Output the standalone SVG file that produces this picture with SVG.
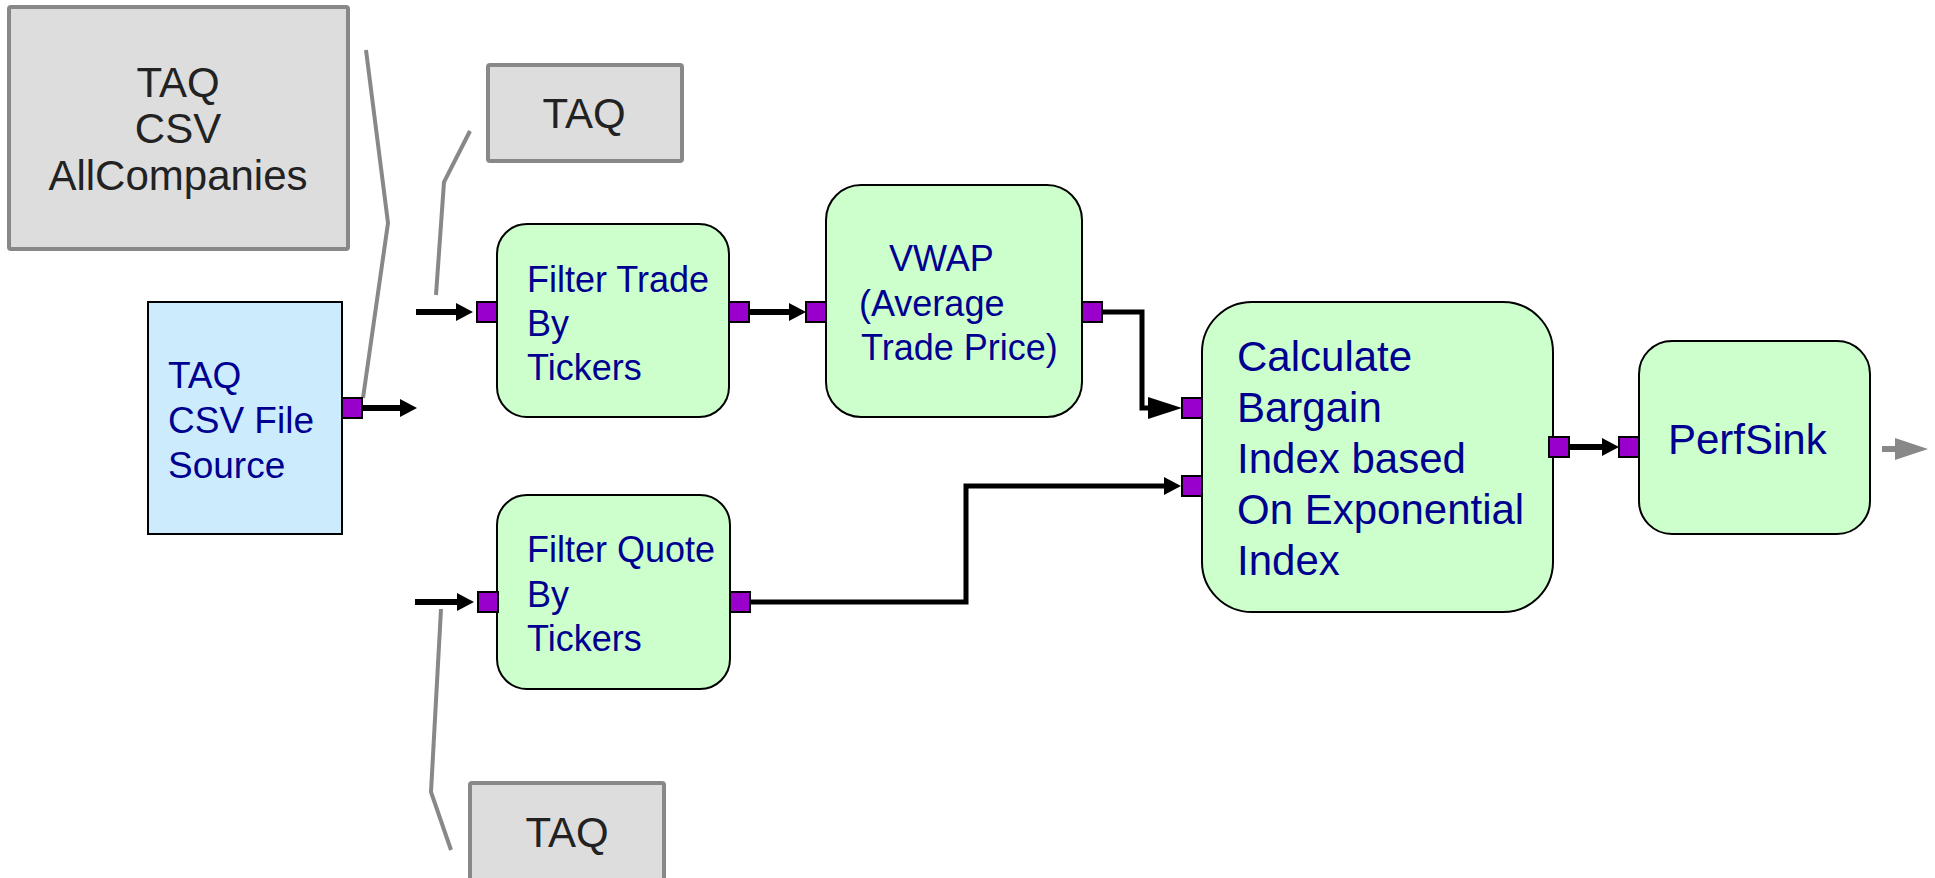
<svg xmlns="http://www.w3.org/2000/svg" width="1935" height="878" viewBox="0 0 1935 878">
  <style>
    .note rect { fill: #dddddd; stroke: #888888; stroke-width: 4; }
    .note text { font-family: "Liberation Sans", Arial, sans-serif; font-size: 42px; fill: #222222; text-anchor: middle; }
    .op { fill: #ccffcc; stroke: #000000; stroke-width: 2; }
    .src { fill: #ccecfd; stroke: #000000; stroke-width: 2; }
    .label { font-family: "Liberation Sans", Arial, sans-serif; font-size: 36px; fill: #000090; }
    .big { font-size: 42px; }
    .port { fill: #9900cc; stroke: #000000; stroke-width: 2; }
    .flow { fill: none; stroke: #000000; stroke-width: 6; }
    .flow.thin { stroke-width: 5; }
    .callout { fill: none; stroke: #888888; stroke-width: 4; }
  </style>
  <defs>
    <marker id="head" markerUnits="userSpaceOnUse" markerWidth="18" markerHeight="18" refX="0" refY="9" orient="auto">
      <path d="M0,0 L17,9 L0,18 z" fill="#000000"/>
    </marker>
    <marker id="head-large" markerUnits="userSpaceOnUse" markerWidth="35" markerHeight="24" refX="0" refY="12" orient="auto">
      <path d="M0,1 L34,12 L0,23 z" fill="#000000"/>
    </marker>
    <marker id="head-grey" markerUnits="userSpaceOnUse" markerWidth="34" markerHeight="24" refX="0" refY="12" orient="auto">
      <path d="M0,1 L33,12 L0,23 z" fill="#888888"/>
    </marker>
  </defs>

  <!-- annotation notes -->
  <g id="note-allcompanies" class="note">
    <rect x="9" y="7" width="339" height="242" rx="2"/>
    <text x="178" y="97">TAQ</text>
    <text x="178" y="143">CSV</text>
    <text x="178" y="190">AllCompanies</text>
  </g>
  <g id="note-trade" class="note">
    <rect x="488" y="65" width="194" height="96" rx="2"/>
    <text x="584" y="128">TAQ</text>
  </g>
  <g id="note-quote" class="note">
    <rect x="470" y="783" width="194" height="130" rx="2"/>
    <text x="567" y="847">TAQ</text>
  </g>

  <!-- callout leaders from notes -->
  <g id="callouts">
    <polyline class="callout" points="366,50 388,223 363,398"/>
    <polyline class="callout" points="470,131 444,182 436,295"/>
    <polyline class="callout" points="441,609 431,792 451,850"/>
  </g>

  <!-- operators -->
  <g id="node-source">
    <rect class="src" x="148" y="302" width="194" height="232"/>
    <text class="label" style="font-size:37px">
      <tspan x="168" y="388">TAQ</tspan>
      <tspan x="168" y="433">CSV File</tspan>
      <tspan x="168" y="478">Source</tspan>
    </text>
    <rect class="port" x="342" y="398" width="20" height="20"/>
  </g>

  <g id="node-filter-trade">
    <rect class="op" x="497" y="224" width="232" height="193" rx="30"/>
    <text class="label">
      <tspan x="527" y="292">Filter Trade</tspan>
      <tspan x="527" y="336">By</tspan>
      <tspan x="527" y="380">Tickers</tspan>
    </text>
    <rect class="port" x="477" y="302" width="20" height="20"/>
    <rect class="port" x="729" y="302" width="20" height="20"/>
  </g>

  <g id="node-vwap">
    <rect class="op" x="826" y="185" width="256" height="232" rx="35"/>
    <text class="label">
      <tspan x="889" y="271">VWAP</tspan>
      <tspan x="859" y="316">(Average</tspan>
      <tspan x="861" y="360">Trade Price)</tspan>
    </text>
    <rect class="port" x="806" y="302" width="20" height="20"/>
    <rect class="port" x="1082" y="302" width="20" height="20"/>
  </g>

  <g id="node-filter-quote">
    <rect class="op" x="497" y="495" width="233" height="194" rx="30"/>
    <text class="label">
      <tspan x="527" y="562">Filter Quote</tspan>
      <tspan x="527" y="607">By</tspan>
      <tspan x="527" y="651">Tickers</tspan>
    </text>
    <rect class="port" x="478" y="592" width="20" height="20"/>
    <rect class="port" x="730" y="592" width="20" height="20"/>
  </g>

  <g id="node-bargain-index">
    <rect class="op" x="1202" y="302" width="351" height="310" rx="50"/>
    <text class="label big">
      <tspan x="1237" y="371">Calculate</tspan>
      <tspan x="1237" y="422">Bargain</tspan>
      <tspan x="1237" y="473">Index based</tspan>
      <tspan x="1237" y="524">On Exponential</tspan>
      <tspan x="1237" y="575">Index</tspan>
    </text>
    <rect class="port" x="1182" y="398" width="20" height="20"/>
    <rect class="port" x="1182" y="476" width="20" height="20"/>
    <rect class="port" x="1549" y="437" width="20" height="20"/>
  </g>

  <g id="node-perfsink">
    <rect class="op" x="1639" y="341" width="231" height="193" rx="33"/>
    <text class="label big" x="1668" y="454">PerfSink</text>
    <rect class="port" x="1619" y="437" width="20" height="20"/>
  </g>

  <!-- data flow connectors -->
  <g id="connectors">
    <path class="flow" d="M362,408 H400" marker-end="url(#head)"/>
    <path class="flow" d="M416,312 H456" marker-end="url(#head)"/>
    <path class="flow" d="M415,602 H457" marker-end="url(#head)"/>
    <path class="flow" d="M749,312 H789" marker-end="url(#head)"/>
    <path class="flow thin" d="M1101,312 H1142 V408 H1148" marker-end="url(#head-large)"/>
    <path class="flow thin" d="M749,602 H966 V486 H1164" marker-end="url(#head)"/>
    <path class="flow" d="M1569,447 H1602" marker-end="url(#head)"/>
    <path class="flow" style="stroke:#888888" d="M1882,449 H1895" marker-end="url(#head-grey)"/>
  </g>
</svg>
